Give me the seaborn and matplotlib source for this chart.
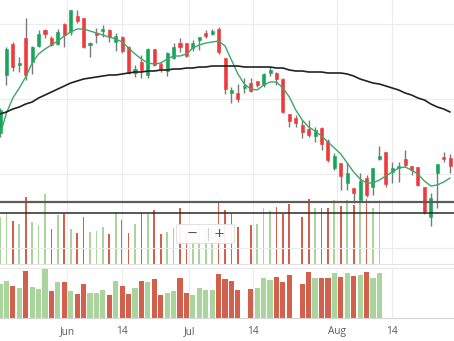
import numpy as np
import pandas as pd
import matplotlib
matplotlib.use("Agg")
import matplotlib.pyplot as plt
import seaborn as sns
from matplotlib.patches import FancyBboxPatch
from matplotlib.lines import Line2D

# ---------------- data ----------------
opens = [123.4, 135.0, 141.2, 137.0, 142.4, 137.6, 140.8, 144.0, 142.4, 141.2,
         145.2, 143.6, 146.8, 146.4, 141.0, 143.4, 143.8, 144.0, 141.6, 142.6,
         140.6, 135.4, 137.6, 135.0, 140.2, 137.2, 135.8, 138.4, 141.4, 141.4,
         140.4, 142.0, 143.4, 143.2, 144.2, 138.4, 131.4, 131.4, 132.4, 133.4,
         133.8, 133.0, 135.4, 135.4, 134.2, 127.2, 126.4, 125.0, 124.2, 122.8,
         124.4, 121.8, 116.4, 117.4, 113.4, 112.4, 110.0, 114.4, 112.6, 118.2,
         119.6, 115.6, 116.4, 118.2, 116.8, 116.6, 112.6, 106.6, 115.4, 118.6, 118.4]
highs = [128.4, 140.6, 141.6, 138.6, 146.4, 140.8, 144.0, 144.2, 142.8, 144.2,
         145.4, 148.0, 148.0, 146.4, 141.6, 144.4, 145.0, 144.2, 143.4, 142.8,
         140.8, 137.0, 139.0, 140.4, 140.2, 137.6, 139.6, 141.4, 142.4, 141.4,
         142.0, 142.6, 144.0, 144.2, 144.6, 138.4, 132.6, 133.2, 134.4, 134.4,
         133.8, 135.4, 136.6, 135.6, 134.4, 127.2, 127.0, 126.0, 126.0, 124.6,
         124.6, 122.2, 119.4, 117.4, 117.6, 112.4, 115.4, 115.0, 116.4, 120.8,
         119.6, 117.6, 117.6, 120.0, 116.8, 116.6, 112.6, 111.4, 117.2, 119.6, 119.2]
lows = [122.6, 133.0, 135.8, 135.6, 134.0, 135.2, 140.6, 142.4, 140.8, 141.0,
        140.6, 143.0, 145.4, 140.4, 138.6, 141.4, 142.6, 141.6, 139.8, 139.4,
        135.2, 134.6, 134.4, 134.4, 136.8, 135.6, 134.8, 138.2, 139.6, 138.6,
        139.8, 140.0, 142.4, 143.0, 139.2, 131.2, 129.4, 129.6, 131.4, 131.6,
        132.6, 132.6, 134.8, 133.0, 127.4, 124.6, 124.6, 122.4, 122.6, 121.6,
        120.0, 117.6, 116.0, 112.0, 112.0, 109.4, 110.0, 110.6, 111.0, 118.0,
        112.6, 113.4, 113.6, 116.6, 115.0, 112.8, 107.2, 104.8, 108.4, 117.6, 115.4]
closes = [128.0, 140.2, 136.6, 137.4, 135.0, 140.6, 143.2, 143.2, 141.0, 143.6,
          143.0, 148.0, 145.8, 140.6, 141.4, 143.0, 144.2, 142.6, 142.8, 139.8,
          135.4, 136.2, 136.0, 140.2, 137.0, 136.2, 139.4, 140.6, 140.6, 138.8,
          141.4, 142.6, 142.8, 143.8, 139.6, 132.2, 132.0, 130.2, 132.8, 131.8,
          133.0, 135.2, 136.0, 134.2, 127.6, 125.8, 125.4, 123.6, 123.0, 124.0,
          121.2, 118.0, 118.8, 114.8, 115.4, 111.4, 113.8, 111.0, 116.4, 118.8,
          113.2, 116.4, 116.8, 117.0, 116.0, 113.0, 107.6, 110.4, 117.2, 118.2, 116.8]
ma_fast = [123.0, 127.4, 130.4, 132.4, 134.6, 137.4, 139.2, 140.2, 141.0, 141.8,
           142.8, 143.6, 144.2, 144.2, 143.8, 143.4, 143.0, 142.6, 142.2, 141.6,
           140.4, 139.2, 138.2, 137.4, 137.2, 137.4, 138.2, 138.8, 138.8, 139.2,
           140.4, 141.0, 141.4, 141.6, 141.8, 140.8, 138.0, 135.2, 133.2, 132.2,
           132.0, 133.0, 133.6, 133.6, 132.4, 130.6, 128.0, 126.0, 124.6, 123.8,
           122.8, 121.6, 120.4, 119.2, 117.4, 115.6, 114.2, 113.4, 113.4, 114.0,
           114.8, 115.6, 116.4, 116.6, 116.0, 115.2, 113.8, 112.8, 113.0, 113.6, 114.4]
ma_slow = [127.2, 127.6, 128.2, 128.6, 129.2, 129.6, 130.4, 131.0, 131.6, 132.2,
           132.8, 133.4, 133.8, 134.2, 134.4, 134.6, 134.8, 135.0, 135.0, 135.2,
           135.4, 135.6, 135.6, 135.8, 135.8, 136.0, 136.0, 136.2, 136.2, 136.4,
           136.4, 136.6, 136.6, 136.8, 136.8, 136.8, 136.8, 136.8, 136.6, 136.6,
           136.6, 136.6, 136.6, 136.4, 136.4, 136.0, 135.8, 135.8, 135.6, 135.6,
           135.6, 135.4, 135.4, 135.4, 135.2, 134.8, 134.2, 133.8, 133.4, 133.2,
           132.8, 132.4, 132.0, 131.4, 131.0, 130.4, 130.0, 129.2, 128.6, 128.2, 127.6]
volume = [23.5, 25.5, 21.5, 20.0, 33.5, 21.0, 19.5, 35.0, 17.5, 24.5,
          25.0, 17.5, 15.5, 23.5, 16.0, 16.5, 18.5, 15.0, 26.0, 22.0,
          15.5, 20.0, 25.5, 25.0, 27.0, 15.0, 16.0, 18.0, 28.0, 16.5,
          14.5, 20.0, 18.5, 18.5, 31.0, 27.0, 25.5, 18.5, None, 19.5,
          20.0, 28.0, 26.5, 28.5, 25.0, 30.0, None, 23.5, 32.5, 28.0,
          28.0, 28.0, 32.0, 29.0, 32.0, 29.5, 30.5, 32.5, 28.0, 32.0]
volume_up = [1, 1, 0, 1, 0, 1, 1, 1, 0, 1,
             0, 1, 0, 0, 1, 1, 1, 0, 1, 0,
             0, 1, 0, 1, 0, 0, 1, 1, 0, 0,
             1, 1, 1, 1, 0, 0, 0, 0, 0, 0,
             1, 1, 1, 0, 0, 0, 0, 0, 0, 1,
             0, 0, 1, 0, 1, 0, 1, 0, 1, 1]
levels = [109.7, 107.5]
price_grid = [145.2, 130.3, 115.3, 100.4]
tick_pos = [10.47, 18.93, 29.44, 39.39, 52.46, 61.01]
tick_labels = ["Jun", "14", "Jul", "14", "Aug", "14"]

# ---------------- styling ----------------
GREEN, RED = "#17a55a", "#f0393a"
WICK = "#7a7a7a"
VGREEN, VRED = "#a9d59d", "#d2604c"
GRID = "#ececec"

sns.set_theme(style="white")
plt.rcParams['font.family'] = ['Open Sans', 'DejaVu Sans']

W, H = 454, 341
fig = plt.figure(figsize=(W / 100, H / 100), dpi=100)
fig.patch.set_facecolor("white")

main_rect = [0, 1 - 264 / H, 1, 264 / H]
ax_vol = fig.add_axes(main_rect)
ax = fig.add_axes(main_rect)
ax.patch.set_visible(False)
ax_bot = fig.add_axes([0, (H - 318) / H, 1, 50 / H])

XMAX = 454 / 6.43

df = pd.DataFrame(dict(i=np.arange(len(opens)), o=opens, h=highs, l=lows,
                       c=closes, maf=ma_fast, mas=ma_slow))
up = df.c >= df.o

# volume (thin bars in main panel)
vdf = pd.DataFrame(dict(i=np.arange(len(volume)), v=volume, up=volume_up)).dropna()
vcol = [VGREEN if u else VRED for u in vdf.up]
ax_vol.bar(vdf.i, vdf.v, width=0.27, color=vcol, linewidth=0)
ax_vol.set_ylim(0, 132)
ax_vol.set_xlim(0, XMAX)
ax_vol.set_xticks([])
ax_vol.set_yticks([])
for s in ["top", "left", "right"]:
    ax_vol.spines[s].set_visible(False)
ax_vol.spines["bottom"].set_color("#e4e4e4")
ax_vol.spines["bottom"].set_linewidth(0.8)

# grid in main panel
ax.set_yticks(price_grid)
ax.set_xticks(tick_pos)
ax.grid(True, color=GRID, linewidth=0.8, zorder=0)
ax.tick_params(labelleft=False, labelbottom=False, length=0)

# candles
ax.vlines(df.i, df.l, df.h, color=WICK, linewidth=1.0, zorder=2)
body = (df.c - df.o).abs().clip(lower=0.12)
ccol = np.where(up, GREEN, RED)
ax.bar(df.i, body, bottom=np.minimum(df.o, df.c), width=0.48, color=ccol,
       edgecolor=ccol, linewidth=0.4, zorder=3)

# moving averages
sns.lineplot(data=df, x="i", y="maf", ax=ax, color="#3ea66a", linewidth=1.0,
             legend=False, zorder=4)
sns.lineplot(data=df, x="i", y="mas", ax=ax, color="#222222", linewidth=1.2,
             legend=False, zorder=4)

# horizontal levels
ax.axhline(levels[0], color="#5c5c5c", linewidth=1.6, zorder=5)
ax.axhline(levels[1], color="#2a2a2a", linewidth=1.1, zorder=5)

ax.set_xlim(0, XMAX)
ax.set_ylim(97.2, 150)
ax.set_xlabel("")
ax.set_ylabel("")
for s in ax.spines.values():
    s.set_visible(False)

# bottom panel (overview)
ax_bot.bar(vdf.i, vdf.v + 3.3, bottom=-3.3, width=0.8, color=vcol, linewidth=0, zorder=2)
ax_bot.set_ylim(-3.3, 35.8)
ax_bot.set_xlim(0, XMAX)
ax_bot.set_yticks([])
ax_bot.set_xticks(tick_pos)
ax_bot.set_xticklabels(tick_labels)
ax_bot.grid(True, axis="x", color=GRID, linewidth=0.8, zorder=0)
ax_bot.tick_params(axis="x", length=0, pad=6, labelsize=7.3, labelcolor="#5a5a5a")
for s in ["left", "right"]:
    ax_bot.spines[s].set_visible(False)
ax_bot.spines["top"].set_color("#e8e8e8")
ax_bot.spines["top"].set_linewidth(0.8)
ax_bot.spines["bottom"].set_color("#d6d6d6")
ax_bot.spines["bottom"].set_linewidth(0.8)

# zoom control
box = FancyBboxPatch((176.5 / W, 1 - 243.5 / H), 58 / W, 19 / H,
                     boxstyle="round,pad=0,rounding_size=0.005",
                     transform=fig.transFigure, facecolor="white",
                     edgecolor="#e0e0e0", linewidth=0.8, alpha=0.93, zorder=10)
fig.add_artist(box)
fig.add_artist(Line2D([207.7 / W, 207.7 / W], [1 - 228 / H, 1 - 239.5 / H],
                      transform=fig.transFigure, color="#cfcfcf", linewidth=0.8, zorder=11))
fig.text(191.7 / W, 1 - 233.5 / H, "\u2212", ha="center", va="center", fontsize=9.5,
         color="#555555", family=["DejaVu Sans"], zorder=12)
fig.text(219.5 / W, 1 - 233.5 / H, "+", ha="center", va="center", fontsize=9.5,
         color="#555555", family=["DejaVu Sans"], zorder=12)

fig.savefig("out.png", dpi=100, facecolor="white")
